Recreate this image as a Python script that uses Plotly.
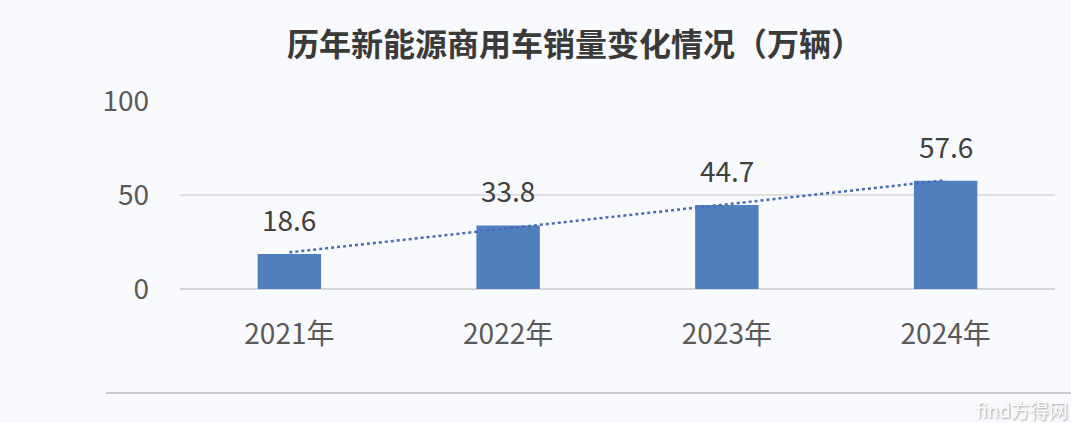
import numpy as np
import plotly.graph_objects as go

years = ["2021年", "2022年", "2023年", "2024年"]
sales = [18.6, 33.8, 44.7, 57.6]
y_ticks = [0, 50, 100]
title_text = "历年新能源商用车销量变化情况（万辆）"

FONT = "Noto Sans CJK SC, Microsoft YaHei, sans-serif"
BG = "#f9fafd"

# linear trend line (Excel-style) computed from the data
xi = np.arange(len(sales))
slope, intercept = np.polyfit(xi, sales, 1)
trend = slope * xi + intercept

fig = go.Figure()
fig.add_trace(go.Bar(
    x=years, y=sales, marker=dict(color="#4f7fbd", line=dict(width=0)),
    hoverinfo="skip", showlegend=False,
))
fig.add_trace(go.Scatter(
    x=years, y=trend, mode="lines",
    line=dict(color="#4a6cb8", width=2.5, dash="dot"),
    hoverinfo="skip", showlegend=False,
))

for yr, v in zip(years, sales):
    fig.add_annotation(x=yr, y=v, text=f"{v}", showarrow=False,
                       yanchor="bottom", yshift=13,
                       font=dict(family=FONT, size=28, color="#404040"))

fig.add_annotation(xref="paper", yref="paper", x=(575 - 180) / 875, y=1.0,
                   yshift=59, text=f"<b>{title_text}</b>", showarrow=False,
                   xanchor="center", yanchor="middle",
                   font=dict(family=FONT, size=32, color="#3a3a3a"))

# bottom separator line
fig.add_shape(type="line", xref="paper", yref="paper",
              x0=(106 - 180) / 875, x1=(1071 - 180) / 875,
              y0=-(393 - 289) / 188, y1=-(393 - 289) / 188,
              line=dict(color="#c9cacc", width=2))

# watermark
fig.add_annotation(xref="paper", yref="paper", x=(1070 - 180) / 875,
                   y=-(409 - 289) / 188, text="find方得网", showarrow=False,
                   xanchor="right", yanchor="middle",
                   font=dict(family=FONT, size=19, color="#ffffff",
                             shadow="1px 1px 2px #9a9a9a"))

fig.update_layout(
    width=1071, height=423,
    margin=dict(l=180, r=16, t=101, b=134),
    paper_bgcolor=BG, plot_bgcolor=BG,
    bargap=0.71,
    font=dict(family=FONT, color="#595959"),
    xaxis=dict(showgrid=False, zeroline=False, showline=False,
               tickfont=dict(size=28, color="#595959"), ticks="",
               ticklabelstandoff=26),
    yaxis=dict(range=[0, 100], tickvals=y_ticks, showgrid=True,
               gridcolor="#e0e0e0", gridwidth=2, zeroline=True,
               zerolinecolor="#d6d6d6", zerolinewidth=2, showline=False,
               tickfont=dict(size=28, color="#595959"), ticks="",
               ticklabelstandoff=30),
)

fig.write_html("out.html", config={"displayModeBar": False},
               post_script="document.body.style.margin='0';document.body.style.overflow='hidden';")
